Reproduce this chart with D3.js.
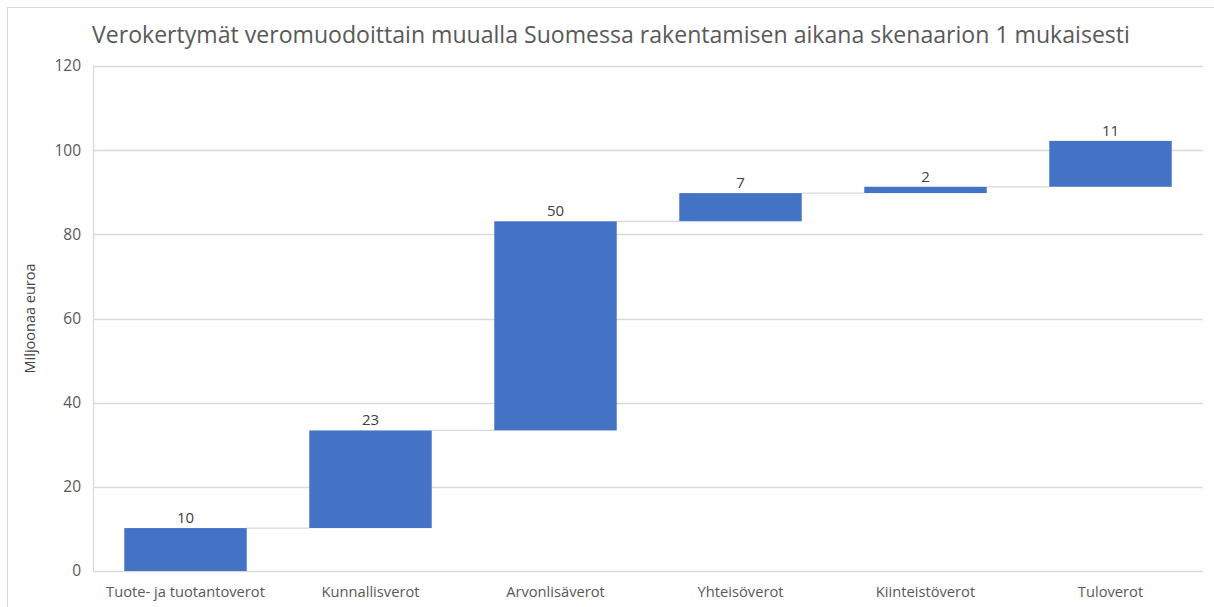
<!DOCTYPE html>
<html>
<head>
<meta charset="utf-8">
<script src="https://cdn.jsdelivr.net/npm/d3@7"></script>
<style>
  body { margin: 0; background: #fff; }
  text { font-family: "Open Sans", sans-serif; }
</style>
</head>
<body>
<div id="chart"></div>
<script>
// data
var categories = ["Tuote- ja tuotantoverot", "Kunnallisverot", "Arvonlisäverot", "Yhteisöverot", "Kiinteistöverot", "Tuloverot"];
var values = [10.2, 23.2, 49.7, 6.7, 1.5, 10.9];
var yTicks = [0, 20, 40, 60, 80, 100, 120];
var titleText = "Verokertymät veromuodoittain muualla Suomessa rakentamisen aikana skenaarion 1 mukaisesti";
var yLabel = "Miljoonaa euroa";

var W = 1214, H = 607;
var margin = { top: 66, right: 11, bottom: 36, left: 93 };
var width = W - margin.left - margin.right,
    height = H - margin.top - margin.bottom;

// running totals for the waterfall
var steps = [];
var run = 0;
values.forEach(function(v, i) {
    steps.push({ cat: categories[i], v: v, start: run, end: run + v });
    run += v;
});

var svg = d3.select("#chart").append("svg")
    .attr("width", W)
    .attr("height", H);

// chart border (only top and left show in the shot)
svg.append("rect")
    .attr("x", 7.5).attr("y", 7.5)
    .attr("width", W + 10).attr("height", H + 10)
    .attr("fill", "none")
    .attr("stroke", "#d9d9d9");

var g = svg.append("g")
    .attr("transform", "translate(" + margin.left + "," + margin.top + ")");

var x = d3.scaleBand()
    .domain(categories)
    .range([0, width])
    .paddingInner(0.338)
    .paddingOuter(0.169);

var y = d3.scaleLinear()
    .domain([0, 120])
    .range([height, 0]);

// gridlines
g.append("g")
    .selectAll("line")
    .data(yTicks)
    .enter().append("line")
    .attr("x1", 0).attr("x2", width)
    .attr("y1", function(d) { return Math.round(y(d)) + 0.5; })
    .attr("y2", function(d) { return Math.round(y(d)) + 0.5; })
    .attr("stroke", "#d9d9d9")
    .attr("stroke-width", 1.3);

// left axis line
g.append("line")
    .attr("x1", 0.5).attr("x2", 0.5)
    .attr("y1", y(120)).attr("y2", y(0))
    .attr("stroke", "#d9d9d9")
    .attr("stroke-width", 1.3);

// y tick labels
var yAxis = d3.axisLeft(y).tickValues(yTicks).tickSize(0).tickPadding(12);
var ya = g.append("g").call(yAxis);
ya.select(".domain").remove();
ya.selectAll("text")
    .attr("fill", "#595959")
    .style("font-size", "15.5px");

// x category labels
var xAxis = d3.axisBottom(x).tickSize(0).tickPadding(16);
var xa = g.append("g")
    .attr("transform", "translate(0," + height + ")")
    .call(xAxis);
xa.select(".domain").remove();
xa.selectAll("text")
    .attr("fill", "#595959")
    .style("font-size", "14.7px");

// connectors between bars
g.append("g")
    .selectAll("line")
    .data(steps.slice(0, steps.length - 1))
    .enter().append("line")
    .attr("x1", function(d) { return x(d.cat) + x.bandwidth(); })
    .attr("x2", function(d, i) { return x(categories[i + 1]); })
    .attr("y1", function(d) { return y(d.end); })
    .attr("y2", function(d) { return y(d.end); })
    .attr("stroke", "#d9d9d9")
    .attr("stroke-width", 1.3);

// bars
g.append("g")
    .selectAll("rect")
    .data(steps)
    .enter().append("rect")
    .attr("x", function(d) { return x(d.cat); })
    .attr("width", x.bandwidth())
    .attr("y", function(d) { return y(d.end); })
    .attr("height", function(d) { return y(d.start) - y(d.end); })
    .attr("fill", "#4472c4");

// value labels
g.append("g")
    .selectAll("text")
    .data(steps)
    .enter().append("text")
    .attr("x", function(d) { return x(d.cat) + x.bandwidth() / 2; })
    .attr("y", function(d) { return y(d.end) - 5; })
    .attr("text-anchor", "middle")
    .attr("fill", "#404040")
    .style("font-size", "15px")
    .text(function(d) { return Math.round(d.v); });

// y axis title
svg.append("text")
    .attr("transform", "translate(35," + (margin.top + height / 2) + ") rotate(-90)")
    .attr("text-anchor", "middle")
    .attr("fill", "#404040")
    .style("font-size", "14.5px")
    .text(yLabel);

// title, fit to the width it has in the reference
var title = svg.append("text")
    .attr("x", 92)
    .attr("y", 43)
    .attr("fill", "#595959")
    .style("font-size", "24px")
    .text(titleText);
var tw = title.node().getComputedTextLength();
title.style("font-size", (24 * 1038 / tw).toFixed(2) + "px");
</script>
</body>
</html>
